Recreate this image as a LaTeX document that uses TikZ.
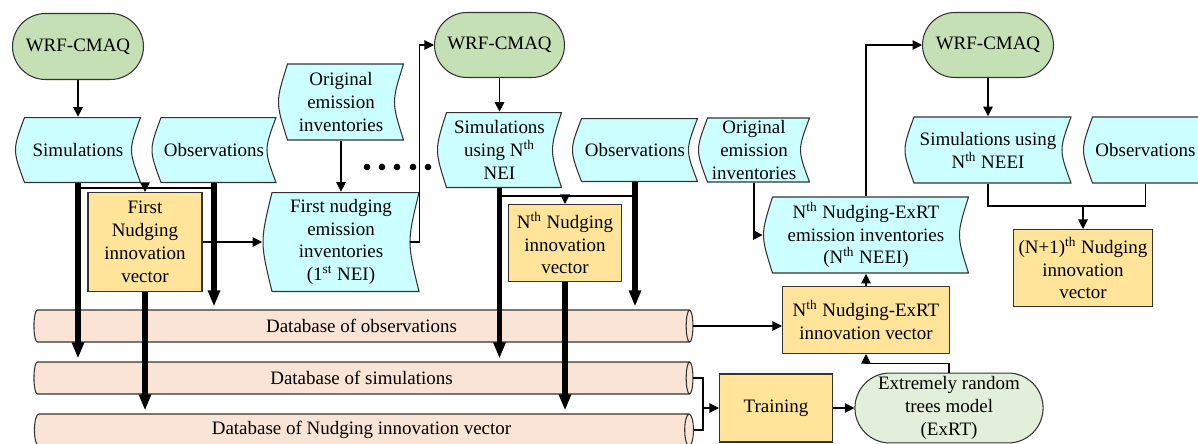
\documentclass[tikz,border=0pt]{standalone}
\usepackage{fontspec}
\setmainfont{Liberation Serif}
\usetikzlibrary{arrows.meta,shapes.geometric,shapes.misc}

\definecolor{datacyan}{RGB}{204,255,255}
\definecolor{modelgreen}{RGB}{197,224,180}
\definecolor{exrtgreen}{RGB}{226,239,218}
\definecolor{vecorange}{RGB}{255,228,153}
\definecolor{dbpeach}{RGB}{250,228,214}

\begin{document}
\begin{tikzpicture}[
font=\fontsize{10.8}{13}\selectfont,
model/.style={rounded rectangle, draw=black!80, line width=0.6pt, fill=modelgreen, align=center, minimum height=1.32cm, inner sep=2pt},
stored/.style={align=center, inner sep=1pt, path picture={
  \draw[draw=black!80, line width=0.6pt, fill=datacyan]
    ([shift={(0.19cm,-0.01cm)}]path picture bounding box.north west)
    .. controls ([xshift=-0.05cm]path picture bounding box.west) .. ([shift={(0.19cm,0.01cm)}]path picture bounding box.south west)
    -- ([shift={(-0.01cm,0.01cm)}]path picture bounding box.south east)
    .. controls ([xshift=-0.25cm]path picture bounding box.east) .. ([shift={(-0.01cm,-0.01cm)}]path picture bounding box.north east)
    -- cycle;}},
vector/.style={draw=black!80, line width=0.6pt, fill=vecorange, align=center, inner sep=2pt},
database/.style={cylinder, shape aspect=0.5, draw=black!80, line width=0.6pt, fill=dbpeach, minimum height=13.18cm, minimum width=0.64cm, inner sep=0pt},
arrow/.style={-{Triangle[length=1.9mm,width=1.9mm]}, line width=0.6pt},
bigarrow/.style={-{Triangle[length=3.2mm,width=2.3mm]}, line width=3pt, shorten >=0.06cm}
]
\useasboundingbox (0,0) rectangle (23.96,-8.86);

% first pass
\node[model, minimum width=2.76cm] (wrf1) at (1.56,-0.93) {WRF-CMAQ};
\node[stored, minimum width=2.52cm, minimum height=1.32cm] (sim1) at (1.56,-3.00) {Simulations};
\node[stored, minimum width=2.5cm, minimum height=1.32cm] (obs1) at (4.28,-3.00) {Observations};
\node[stored, minimum width=2.52cm, minimum height=1.54cm] (orig1) at (6.82,-2.04) {Original\\emission\\inventories};
\node[vector, minimum width=2.28cm, minimum height=1.98cm] (fniv) at (2.90,-4.84) {First\\Nudging\\innovation\\vector};
\node[stored, minimum width=3.14cm, minimum height=2.0cm] (nei1) at (6.82,-4.84) {First nudging\\emission\\inventories\\(1\textsuperscript{st} NEI)};

\fill (7.34,-3.34) circle (0.066) (7.64,-3.34) circle (0.066) (7.94,-3.34) circle (0.066) (8.26,-3.34) circle (0.066) (8.56,-3.34) circle (0.066);

% n-th pass
\node[model, minimum width=2.74cm, minimum height=1.3cm] (wrf2) at (9.99,-0.90) {WRF-CMAQ};
\node[stored, minimum width=2.5cm, minimum height=1.52cm] (sim2) at (9.99,-3.00) {Simulations\\using N\textsuperscript{th}\\NEI};
\node[stored, minimum width=2.52cm, minimum height=1.28cm] (obs2) at (12.70,-3.00) {Observations};
\node[stored, minimum width=2.24cm, minimum height=1.3cm] (orig2) at (15.08,-3.00) {Original\\emission\\inventories};
\node[vector, minimum width=2.26cm, minimum height=1.54cm] (nniv) at (11.30,-4.86) {N\textsuperscript{th} Nudging\\innovation\\vector};

% ExRT pass
\node[stored, minimum width=4.12cm, minimum height=1.54cm] (neei) at (17.32,-4.70) {N\textsuperscript{th} Nudging-ExRT\\emission inventories\\(N\textsuperscript{th} NEEI)};
\node[vector, minimum width=3.34cm, minimum height=1.34cm] (exrtiv) at (17.32,-6.40) {N\textsuperscript{th} Nudging-ExRT\\innovation vector};
\node[model, minimum width=2.76cm, minimum height=1.3cm] (wrf3) at (19.76,-0.90) {WRF-CMAQ};
\node[stored, minimum width=3.34cm, minimum height=1.34cm] (sim3) at (19.76,-3.00) {Simulations using\\N\textsuperscript{th} NEEI};
\node[stored, minimum width=2.5cm, minimum height=1.34cm] (obs3) at (22.91,-3.00) {Observations};
\node[vector, minimum width=2.78cm, minimum height=1.54cm] (np1) at (21.66,-5.36) {(N+1)\textsuperscript{th} Nudging\\innovation\\vector};

% databases and model
\node[database] (dbobs) at (7.23,-6.52) {Database of observations};
\node[database] (dbsim) at (7.23,-7.56) {Database of simulations};
\node[database] (dbniv) at (7.23,-8.60) {Database of Nudging innovation vector};
\node[vector, minimum width=2.26cm, minimum height=1.36cm] (train) at (15.52,-8.16) {Training};
\node[model, fill=exrtgreen, minimum width=3.68cm, minimum height=1.36cm] (exrt) at (18.98,-8.16) {Extremely random\\trees model\\(ExRT)};

\coordinate (j1) at (2.90,-3.76);
\coordinate (j2) at (11.30,-3.92);
\coordinate (j3) at (21.66,-4.12);
\coordinate (dbjoin) at (14.06,-8.16);

\draw[arrow] (wrf1.south) -- (sim1.north);
\draw[line width=0.6pt] (sim1.south |- j1) -- (obs1.south |- j1);
\draw[arrow] (j1) -- (fniv.north);
\draw[arrow] (fniv.east) -- (nei1.west);
\draw[arrow] (orig1.south) -- (nei1.north);
\draw[arrow] ([xshift=-0.19cm]nei1.east) -- (nei1.east) |- (wrf2.west);

\draw[arrow] (wrf2.south) -- (sim2.north);
\draw[line width=0.6pt] (sim2.south |- j2) -- (obs2.south |- j2);
\draw[arrow] (j2) -- (nniv.north);
\draw[arrow] (orig2.south) |- (neei.west);
\draw[arrow] (exrtiv.north) -- (neei.south);
\draw[arrow] (neei.north) |- (wrf3.west);
\draw[arrow] (wrf3.south) -- (sim3.north);
\draw[line width=0.6pt] (sim3.south) |- (j3) -| (obs3.south);
\draw[arrow] (j3) -- (np1.north);

\draw[arrow] (dbobs.east) -- (dbobs.east -| exrtiv.west);
\draw[line width=0.6pt] (dbsim.east) -| (dbjoin);
\draw[line width=0.6pt] (dbniv.east) -| (dbjoin);
\draw[arrow] (dbjoin) -- (train.west);
\draw[arrow] (train.east) -- (exrt.west);
\draw[arrow] (exrt.north) -- ++(0,0.18) -| (exrtiv.south);

\draw[bigarrow] (sim1.south) -- (sim1.south |- dbsim.north);
\draw[bigarrow] (obs1.south) -- (obs1.south |- dbobs.north);
\draw[bigarrow] (fniv.south) -- (fniv.south |- dbniv.north);
\draw[bigarrow] (sim2.south) -- (sim2.south |- dbsim.north);
\draw[bigarrow] (obs2.south) -- (obs2.south |- dbobs.north);
\draw[bigarrow] (nniv.south) -- (nniv.south |- dbniv.north);
\end{tikzpicture}
\end{document}
